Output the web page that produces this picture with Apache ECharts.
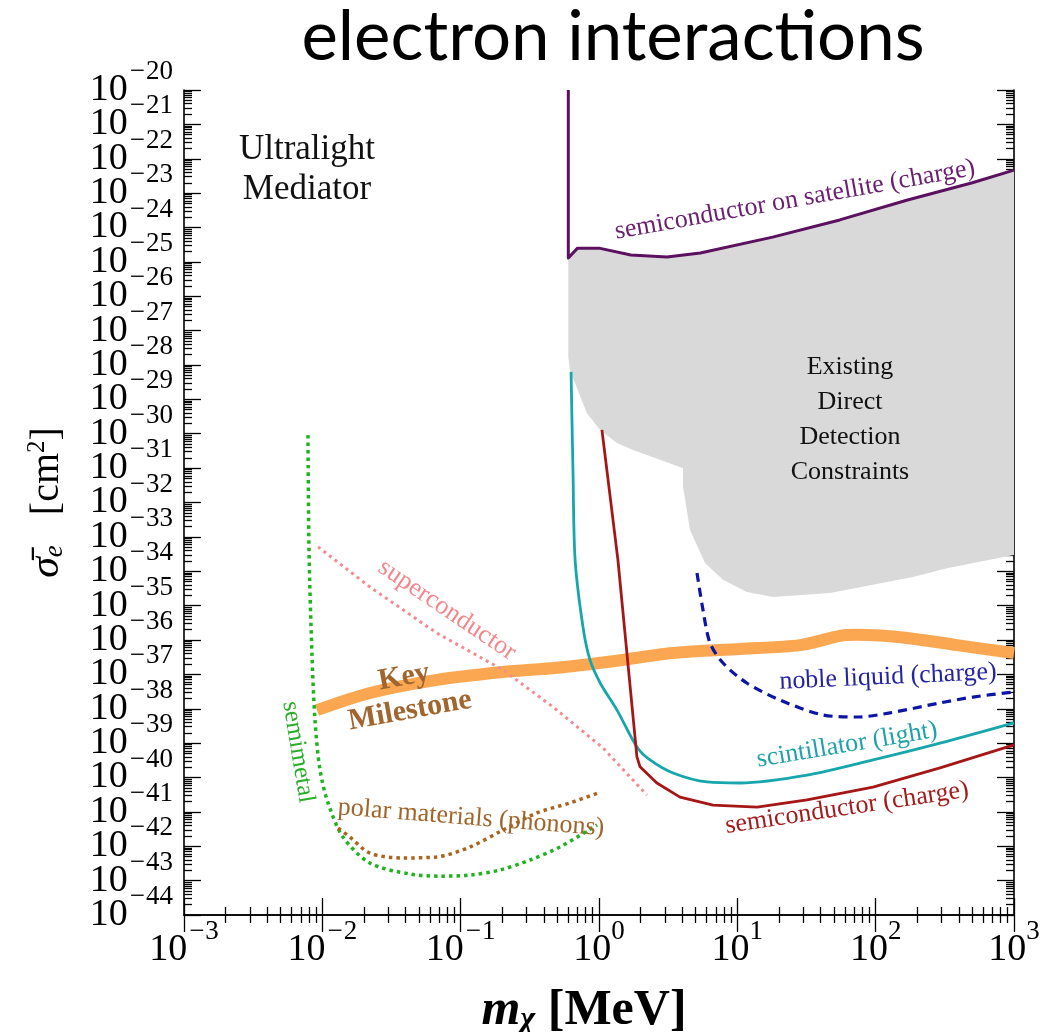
<!DOCTYPE html>
<html><head><meta charset="utf-8">
<script src="https://cdn.jsdelivr.net/npm/echarts@6/dist/echarts.min.js"></script>
<style>html,body{margin:0;padding:0;background:#fff}#c{width:1043px;height:1032px}</style>
</head><body><div id="c"></div>
<script>
// ---- tick label exponents ----
const xTickExps = [-3, -2, -1, 0, 1, 2, 3];
const yTickExps = [-44,-43,-42,-41,-40,-39,-38,-37,-36,-35,-34,-33,-32,-31,-30,-29,-28,-27,-26,-25,-24,-23,-22,-21,-20];
const minorMultipliers = [2, 3, 4, 5, 6, 7, 8, 9];

// ---- data (m_chi in MeV, sigma_e in cm^2) ----
const satelliteM   = [0.6, 0.6, 0.7, 1.0, 1.7, 3.1, 5.4, 18, 55, 170, 500, 1000];
const satelliteSig = [1e-20, 1.29e-25, 2.51e-25, 2.51e-25, 1.58e-25, 1.38e-25, 1.82e-25, 5.25e-25, 1.66e-24, 6.31e-24, 2.0e-23, 4.68e-23];

// existing constraints region: lower boundary (left to right)
const existLowM   = [0.6, 0.616, 0.818, 1.02, 1.35, 1.76, 2.76, 4.05, 4.05, 4.55, 5.84, 7.88, 11.7, 18.1, 46.8, 186, 328, 792, 1000];
const existLowSig = [1.70e-28, 7.08e-29, 3.98e-30, 1.29e-30, 5.37e-31, 3.39e-31, 1.74e-31, 1.0e-31, 2.82e-32, 1.58e-33, 1.74e-34, 5.62e-35, 2.51e-35, 1.78e-35, 2.34e-35, 6.76e-35, 1.23e-34, 2.45e-34, 2.95e-34];

const scintM   = [0.628, 0.649, 0.672, 0.766, 0.861, 1.02, 1.35, 1.88, 2.34, 3.43, 6.04, 10.5, 31.9, 95.7, 292, 1000];
const scintSig = [6.31e-29, 7.24e-32, 2.14e-34, 2.40e-36, 2.63e-37, 5.62e-38, 9.12e-39, 7.76e-40, 3.24e-40, 1.35e-40, 7.41e-41, 6.92e-41, 1.17e-40, 3.24e-40, 1.0e-39, 3.89e-39];

const semiM   = [1.05, 1.37, 1.88, 1.98, 2.62, 3.85, 6.67, 13.9, 31.9, 95.7, 292, 1000];
const semiSig = [1.29e-30, 2.14e-34, 3.98e-40, 2.04e-40, 6.92e-41, 2.69e-41, 1.58e-41, 1.38e-41, 2.24e-41, 5.25e-41, 1.91e-40, 8.91e-40];

const nobleM   = [5.11, 5.65, 6.35, 7.88, 11.7, 20.4, 41.6, 73.3, 127, 292, 506, 1000];
const nobleSig = [8.91e-35, 7.41e-36, 8.13e-37, 2.14e-37, 5.62e-38, 1.78e-38, 6.61e-39, 5.75e-39, 7.59e-39, 1.48e-38, 2.19e-38, 3.09e-38];

const milestoneM   = [0.00914, 0.0221, 0.0675, 0.202, 0.497, 1.14, 3.43, 10.5, 28.4, 55.2, 73.3, 169, 387, 1000];
const milestoneSig = [9.12e-39, 2.88e-38, 6.92e-38, 1.17e-37, 1.55e-37, 2.29e-37, 4.17e-37, 5.50e-37, 7.08e-37, 1.32e-36, 1.41e-36, 1.15e-36, 7.08e-37, 4.17e-37];

const semimetalM   = [0.00787, 0.00802, 0.00841, 0.00885, 0.00962, 0.0110, 0.0141, 0.0221, 0.0431, 0.0710, 0.117, 0.192, 0.317, 0.522, 0.968];
const semimetalSig = [9.12e-31, 3.39e-34, 4.17e-37, 4.68e-39, 1.66e-40, 1.82e-41, 1.86e-42, 3.24e-43, 1.55e-43, 1.35e-43, 1.45e-43, 2.04e-43, 3.98e-43, 9.55e-43, 4.17e-42];

const polarM   = [0.013, 0.0158, 0.0221, 0.0383, 0.0675, 0.117, 0.202, 0.356, 0.617, 0.984];
const polarSig = [3.39e-42, 1.86e-42, 6.31e-43, 4.57e-43, 4.90e-43, 9.55e-43, 2.95e-42, 9.33e-42, 1.82e-41, 3.55e-41];

const superM   = [0.00931, 0.0221, 0.0675, 0.202, 0.466, 1.07, 2.22];
const superSig = [5.13e-34, 3.47e-35, 1.58e-36, 1.35e-37, 1.12e-38, 7.24e-40, 3.09e-41];

// ---- derived tick values ----
const xMajor = xTickExps.map(e => Math.pow(10, e));
const yMajor = yTickExps.map(e => Math.pow(10, e));
const xMinor = xMajor.slice(0, -1).flatMap(v => minorMultipliers.map(k => k * v));
const yMinor = yMajor.slice(0, -1).flatMap(v => minorMultipliers.map(k => k * v));
// keep the end ticks safely inside the axis extent (float rounding)
function inside(vals) { const n = vals.length; return vals.map((v, i) => i === 0 ? v * 1.000001 : (i === n - 1 ? v * 0.999999 : v)); }
const yMajorIn = inside(yMajor);
// y labels are split over two coincident axes (even / odd exponents) so none get hidden
const yLabelsEven = yMajorIn.filter((v, i) => yTickExps[i] % 2 === 0);
const yLabelsOdd  = yMajorIn.filter((v, i) => yTickExps[i] % 2 !== 0);

const SERIF = '"Liberation Serif", "Times New Roman", serif';
const chart = echarts.init(document.getElementById('c'), null, {renderer: 'canvas', width: 1043, height: 1032});

function powLabel(v) {
  const e = Math.round(Math.log10(v));
  return '{b|10}' + (e < 0 ? '{m|\u2212}' : '') + '{s|' + Math.abs(e) + '}';
}
const labelRich = {
  b: {fontFamily: SERIF, fontSize: 38, color: '#000', lineHeight: 40},
  m: {fontFamily: SERIF, fontSize: 27, color: '#000', lineHeight: 25, padding: [0, 1, 36, 2]},
  s: {fontFamily: SERIF, fontSize: 27, color: '#000', lineHeight: 25, padding: [0, 0, 36, 0]}
};
const axisLineStyle = {show: true, lineStyle: {color: '#000', width: 1.6}};
const tickStyle = {color: '#000', width: 1.3};

function mkAxis(dim, position, ticks, len, main) {
  const isX = dim === 'x';
  return {
    type: 'log', logBase: 10, position,
    min: isX ? 1e-3 : 1e-44, max: isX ? 1e3 : 1e-20,
    axisLine: main ? axisLineStyle : {show: false},
    axisTick: {show: true, inside: true, length: len, customValues: inside(ticks), lineStyle: tickStyle},
    axisLabel: {show: false},
    splitLine: {show: false},
    minorTick: {show: false},
    axisPointer: {show: false}
  };
}
function labelCfg(values, margin) {
  return {show: true, customValues: values, formatter: powLabel, rich: labelRich, margin,
    showMinLabel: true, showMaxLabel: true, hideOverlap: false};
}

const xAxes = [
  mkAxis('x', 'bottom', xMajor, 17, true),
  mkAxis('x', 'bottom', xMinor, 8, false),
  mkAxis('x', 'top', xMajor, 17, true),
  mkAxis('x', 'top', xMinor, 8, false)
];
xAxes[0].axisLabel = labelCfg(inside(xMajor), 15);
xAxes[0].name = '{i|m}{sub|\u03c7}{n| [MeV]}';
xAxes[0].nameLocation = 'middle';
xAxes[0].nameGap = 65;
xAxes[0].nameTextStyle = {
  padding: [0, 30, 0, 0],
  rich: {
    i: {fontFamily: SERIF, fontStyle: 'italic', fontWeight: 'bold', fontSize: 50, color: '#000', lineHeight: 50},
    sub: {fontFamily: SERIF, fontStyle: 'italic', fontWeight: 'bold', fontSize: 32, color: '#000', lineHeight: 32, padding: [16, 0, 0, 0]},
    n: {fontFamily: SERIF, fontWeight: 'bold', fontSize: 50, color: '#000', lineHeight: 50}
  }
};

const yAxes = [
  mkAxis('y', 'left', yMajor, 17, true),
  mkAxis('y', 'left', yMinor, 8, false),
  mkAxis('y', 'right', yMajor, 17, true),
  mkAxis('y', 'right', yMinor, 8, false)
];
yAxes[0].axisLabel = labelCfg(yLabelsEven, 11);
yAxes[1].axisLabel = labelCfg(yLabelsOdd, 11);
yAxes[0].name = '{i|\u03c3\u0304}{sub|e}{n|   [cm}{sup|2}{n|]}';
yAxes[0].nameLocation = 'middle';
yAxes[0].nameRotate = 90;
yAxes[0].nameGap = 116;
yAxes[0].nameTextStyle = {
  rich: {
    i: {fontFamily: SERIF, fontStyle: 'italic', fontSize: 42, color: '#000', lineHeight: 42},
    sub: {fontFamily: SERIF, fontStyle: 'italic', fontSize: 27, color: '#000', lineHeight: 27, padding: [16, 0, 0, 0]},
    n: {fontFamily: SERIF, fontSize: 40, color: '#000', lineHeight: 42},
    sup: {fontFamily: SERIF, fontSize: 25, color: '#000', lineHeight: 25, padding: [0, 0, 20, 0]}
  }
};

function lineSeries(name, xs, ys, color, width, type, smooth, z) {
  return {
    name, type: 'line', xAxisIndex: 0, yAxisIndex: 0,
    data: xs.map((x, i) => [x, ys[i]]),
    showSymbol: false, symbol: 'none', smooth: smooth,
    lineStyle: {color, width, type, cap: 'butt', join: 'round'},
    z, silent: true, animation: false
  };
}

const regionM = satelliteM.slice(1).concat(existLowM.slice().reverse());
const regionSig = satelliteSig.slice(1).concat(existLowSig.slice().reverse());

const series = [
  {
    name: 'Existing Direct Detection Constraints', type: 'custom', xAxisIndex: 0, yAxisIndex: 0,
    data: [[regionM[0], regionSig[0]]], z: 1, silent: true, animation: false,
    renderItem: function (params, api) {
      return {
        type: 'polygon',
        shape: {points: regionM.map((m, i) => api.coord([m, regionSig[i]]))},
        style: {fill: '#d9d9d9', stroke: null}
      };
    }
  },
  lineSeries('Key Milestone', milestoneM, milestoneSig, '#fba752', 12, 'solid', 0.3, 2),
  lineSeries('superconductor', superM, superSig, '#f58a90', 3, [3, 4], false, 3),
  lineSeries('semimetal', semimetalM, semimetalSig, '#1fb31f', 3.5, [3.5, 4], 0.3, 3),
  lineSeries('polar materials (phonons)', polarM, polarSig, '#a8651f', 3.5, [3.5, 4], 0.3, 3),
  lineSeries('scintillator (light)', scintM, scintSig, '#17a6ab', 2.8, 'solid', 0.3, 4),
  lineSeries('semiconductor (charge)', semiM, semiSig, '#a51616', 2.8, 'solid', false, 4),
  lineSeries('noble liquid (charge)', nobleM, nobleSig, '#0d15a6', 3.2, [9, 6], 0.3, 4),
  lineSeries('semiconductor on satellite (charge)', satelliteM, satelliteSig, '#5b1060', 3, 'solid', false, 5)
];

function txt(text, x, y, deg, size, color, extra) {
  return {
    type: 'text', x, y, rotation: deg * Math.PI / 180, z: 100, silent: true,
    style: Object.assign({
      text, fill: color, fontFamily: SERIF, fontSize: size,
      textAlign: 'center', textVerticalAlign: 'middle'
    }, extra || {})
  };
}

const graphics = [
  txt('Ultralight\nMediator', 307, 170, 0, 35, '#111', {lineHeight: 40}),
  txt('Existing\nDirect\nDetection\nConstraints', 850, 420, 0, 26, '#111', {lineHeight: 35}),
  txt('semiconductor on satellite (charge)', 795, 200, 10.1, 26, '#6b2170'),
  txt('Key\nMilestone', 407, 694, 10.2, 30, '#a0662e', {fontWeight: 'bold', lineHeight: 34}),
  txt('superconductor', 447, 610, -34, 26, '#f5868c'),
  txt('semimetal', 298, 752, -80.6, 25, '#27ae27'),
  txt('polar materials (phonons)', 471, 818, -4.5, 26, '#a0652a'),
  txt('noble liquid (charge)', 888, 677, 2.6, 26, '#2424a0'),
  txt('scintillator (light)', 847, 745, 9.5, 26, '#1fa2a8'),
  txt('semiconductor (charge)', 847, 808, 8.5, 26, '#a31c1c')
];

chart.setOption({
  backgroundColor: '#fff',
  animation: false,
  title: {
    text: 'electron interactions', left: 608, top: -2, textAlign: 'center',
    textStyle: {fontFamily: 'Lato', fontSize: 69, fontWeight: 'normal', color: '#000'}
  },
  grid: {left: 184, top: 90, right: 29, bottom: 117, containLabel: false, outerBoundsMode: 'none'},
  xAxis: xAxes,
  yAxis: yAxes,
  series,
  graphic: graphics
});
</script>
</body></html>
